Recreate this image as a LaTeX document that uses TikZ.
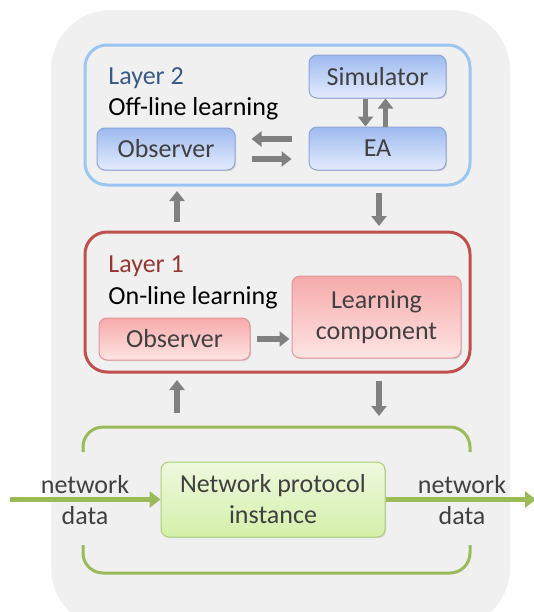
\documentclass[tikz,border=0pt]{standalone}
\usepackage{fontspec}
\setmainfont{Carlito}
\usetikzlibrary{arrows.meta,shadows}

\definecolor{bgGray}{RGB}{240,240,240}
\definecolor{frameBlue}{RGB}{155,198,242}
\definecolor{frameRed}{RGB}{192,80,77}
\definecolor{frameGreen}{RGB}{155,187,89}
\definecolor{textBlue}{RGB}{55,90,135}
\definecolor{textRed}{RGB}{150,55,52}
\definecolor{boxText}{RGB}{64,64,64}
\definecolor{arrGray}{RGB}{128,128,128}

\tikzset{
  box/.style={draw, rounded corners=4pt, line width=0.5pt, text=boxText,
    align=center, inner sep=0pt,
    drop shadow={opacity=0.25, shadow xshift=0.6pt, shadow yshift=-0.6pt}},
  bluebox/.style={box, draw={rgb,255:red,140;green,165;blue,215},
    top color={rgb,255:red,158;green,186;blue,240},
    bottom color={rgb,255:red,228;green,236;blue,252}},
  redbox/.style={box, draw={rgb,255:red,225;green,150;blue,150},
    top color={rgb,255:red,246;green,170;blue,170},
    bottom color={rgb,255:red,255;green,228;blue,228}},
  greenbox/.style={box, draw={rgb,255:red,175;green,205;blue,120},
    top color={rgb,255:red,238;green,248;blue,222},
    bottom color={rgb,255:red,212;green,240;blue,170}},
  layerframe/.style={draw, rounded corners=11pt, line width=1.5pt, fill=bgGray,
    minimum width=192.5pt, minimum height=70pt},
  grayarrow/.style={draw=arrGray, line width=2.6pt,
    -{Triangle[width=7.5pt,length=5pt]}},
  greenarrow/.style={draw=frameGreen, line width=2.6pt,
    -{Triangle[width=8pt,length=5.5pt]}},
  lbl/.style={anchor=base west, inner sep=0pt}
}

\begin{document}
\begin{tikzpicture}[x=0.5pt, y=-0.5pt, font=\fontsize{13}{15.5}\selectfont]
    \useasboundingbox (0,0) rectangle (534,612);

    % grey background panel, bottom runs off the page
    \fill[bgGray, rounded corners=30pt] (51,10) rectangle (510,628);

    % Layer 2
    \node[layerframe, draw=frameBlue] (layerB) at (277.5,115) {};
    \node[lbl, text=textBlue] (layerBname) at (108,84) {Layer 2};
    \node[lbl] (layerBtext) at (108,115) {Off-line learning};
    \node[bluebox, minimum width=68.5pt, minimum height=21.5pt] (sim) at (377.5,76.5) {Simulator};
    \node[bluebox, minimum width=68.5pt, minimum height=21.5pt] (ea) at (377.5,148.5) {EA};
    \node[bluebox, minimum width=69pt, minimum height=21pt] (obsB) at (166,149) {Observer};

    % Layer 1
    \node[layerframe, draw=frameRed] (layerA) at (277.5,302) {};
    \node[lbl, text=textRed] (layerAname) at (108,272) {Layer 1};
    \node[lbl] (layerAtext) at (108,304) {On-line learning};
    \node[redbox, minimum width=75.5pt, minimum height=21pt] (obsR) at (174.5,339) {Observer};
    \node[redbox, minimum width=84.5pt, minimum height=41pt] (learn) at (376.5,317) {Learning\\component};

    % protocol instance and its brackets
    \node[greenbox, minimum width=112pt, minimum height=37.5pt] (npi) at (273,499.5) {Network protocol\\instance};
    \draw[frameGreen, line width=1.5pt, rounded corners=10pt] (83,452) -- (83,427) -- (470,427) -- (470,452);
    \draw[frameGreen, line width=1.5pt, rounded corners=10pt] (83,545) -- (83,573) -- (470,573) -- (470,545);

    % free ends of the data arrows
    \coordinate (dataIn) at (10,499.5);
    \coordinate (dataOut) at (536,499.5);
    \draw[greenarrow] (dataIn) -- (npi.west);
    \draw[greenarrow] (npi.east) -- (dataOut);
    \node[boxText, align=center] (inLbl) at (85,500) {network\\data};
    \node[boxText, align=center] (outLbl) at (462,500) {network\\data};

    % arrows inside layer 2
    \draw[grayarrow] ([xshift=-6pt]sim.south) -- ([xshift=-6pt]ea.north);
    \draw[grayarrow] ([xshift=4pt]ea.north) -- ([xshift=4pt]sim.north |- sim.south);
    \draw[grayarrow] ([xshift=28pt,yshift=5pt]obsB.east) -- ([xshift=8pt,yshift=5pt]obsB.east);
    \draw[grayarrow] ([xshift=8pt,yshift=-5pt]obsB.east) -- ([xshift=28pt,yshift=-5pt]obsB.east);

    % arrow inside layer 1
    \draw[grayarrow] ([xshift=3pt]obsR.east) -- ([xshift=-1pt]obsR.east -| learn.west);

    % arrows between the layers
    \coordinate (upA) at (177,222);
    \coordinate (upB) at (177,191);
    \coordinate (downA) at (379,193);
    \coordinate (downB) at (379,226);
    \draw[grayarrow] (upA) -- (upB);
    \draw[grayarrow] (downA) -- (downB);

    \coordinate (upC) at (177,413);
    \coordinate (upD) at (177,380);
    \coordinate (downC) at (379,381);
    \coordinate (downD) at (379,416);
    \draw[grayarrow] (upC) -- (upD);
    \draw[grayarrow] (downC) -- (downD);

\end{tikzpicture}
\end{document}
